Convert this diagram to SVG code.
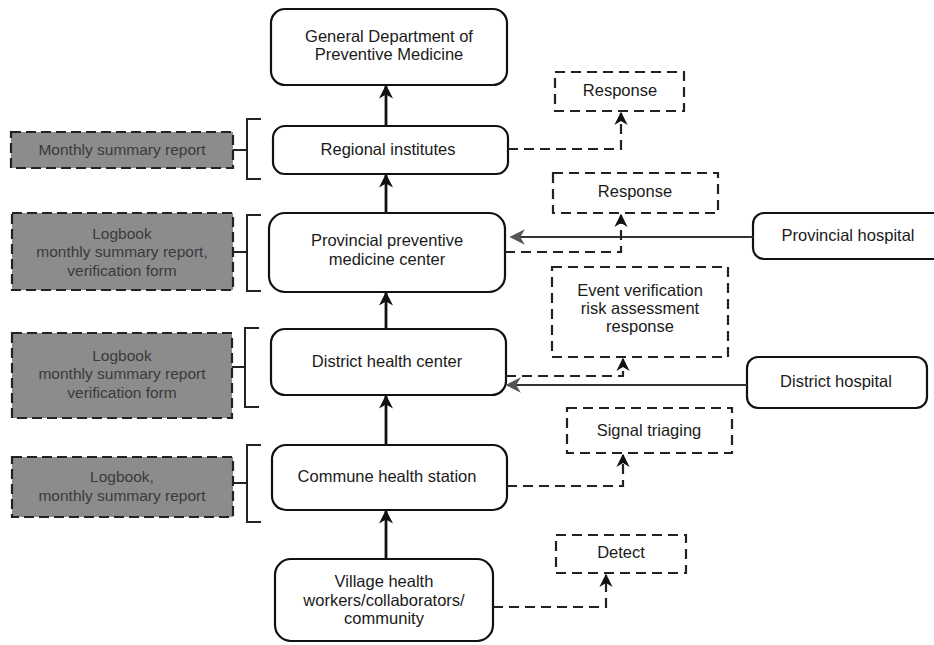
<svg xmlns="http://www.w3.org/2000/svg" width="934" height="645" viewBox="0 0 934 645">
<defs>
<style>
.box{fill:#fff;stroke:#111;stroke-width:2.2}
.grey{fill:#8c8c8c;stroke:#222;stroke-width:2.2;stroke-dasharray:10 5}
.dbox{fill:#fff;stroke:#222;stroke-width:2.2;stroke-dasharray:10 6}
text{font-family:"Liberation Sans",Arial,sans-serif;font-size:16.5px;fill:#1a1a1a;text-anchor:middle;dominant-baseline:middle}
.gt{fill:#3a3a3a;font-size:15.5px}
.main{stroke:#111;stroke-width:2.8;fill:none}
.side{stroke:#333;stroke-width:2.2;fill:none}
.dash{stroke:#222;stroke-width:2.2;fill:none;stroke-dasharray:10 6}
.br{stroke:#222;stroke-width:2;fill:none}
</style>
<marker id="ah" viewBox="0 0 10 10" refX="9" refY="5" markerWidth="5" markerHeight="5" orient="auto" markerUnits="strokeWidth">
<path d="M0,0 L10,5 L0,10 L3,5 z" fill="#111"/>
</marker>
<marker id="ahs" viewBox="0 0 10 10" refX="9" refY="5" markerWidth="7" markerHeight="7" orient="auto" markerUnits="strokeWidth">
<path d="M0,0 L10,5 L0,10 L3,5 z" fill="#555"/>
</marker>
<marker id="ahd" viewBox="0 0 10 10" refX="9" refY="5" markerWidth="6" markerHeight="6" orient="auto" markerUnits="strokeWidth">
<path d="M0,0 L10,5 L0,10 L3,5 z" fill="#111"/>
</marker>
</defs>
<rect width="934" height="645" fill="#fff"/>

<g id="general">
<rect class="box" x="271" y="9" width="236" height="76" rx="14"/>
<text x="389" y="38">General Department of</text>
<text x="389" y="56">Preventive Medicine</text>
</g>
<g id="regional">
<rect class="box" x="273" y="126" width="235" height="48" rx="12"/>
<text x="388" y="151">Regional institutes</text>
</g>
<g id="provincial">
<rect class="box" x="269" y="213" width="236" height="79" rx="16"/>
<text x="387" y="242">Provincial preventive</text>
<text x="387" y="261">medicine center</text>
</g>
<g id="district">
<rect class="box" x="271" y="329" width="235" height="66" rx="14"/>
<text x="387" y="363">District health center</text>
</g>
<g id="commune">
<rect class="box" x="272" y="445" width="235" height="65" rx="14"/>
<text x="387" y="478">Commune health station</text>
</g>
<g id="village">
<rect class="box" x="275" y="559" width="218" height="82" rx="16"/>
<text x="384" y="583">Village health</text>
<text x="384" y="602">workers/collaborators/</text>
<text x="384" y="620">community</text>
</g>

<g id="prov-hospital">
<rect class="box" x="753" y="213" width="195" height="46" rx="11"/>
<text x="848" y="237">Provincial hospital</text>
</g>
<g id="dist-hospital">
<rect class="box" x="747" y="357" width="180" height="51" rx="11"/>
<text x="836" y="383">District hospital</text>
</g>

<g id="response1">
<rect class="dbox" x="555" y="72" width="129" height="39"/>
<text x="620" y="92">Response</text>
</g>
<g id="response2">
<rect class="dbox" x="553" y="173" width="165" height="40"/>
<text x="635" y="193">Response</text>
</g>
<g id="event">
<rect class="dbox" x="552" y="267" width="176" height="90"/>
<text x="640" y="292">Event verification</text>
<text x="640" y="310">risk assessment</text>
<text x="640" y="328">response</text>
</g>
<g id="signal">
<rect class="dbox" x="567" y="408" width="165" height="45"/>
<text x="649" y="432">Signal triaging</text>
</g>
<g id="detect">
<rect class="dbox" x="556" y="535" width="130" height="38"/>
<text x="621" y="554">Detect</text>
</g>

<g id="rep-monthly">
<rect class="grey" x="11" y="132" width="222" height="36"/>
<text class="gt" x="122" y="151">Monthly summary report</text>
</g>
<g id="rep-provincial">
<rect class="grey" x="12" y="213" width="221" height="77"/>
<text class="gt" x="122" y="235">Logbook</text>
<text class="gt" x="122" y="253">monthly summary report,</text>
<text class="gt" x="122" y="272">verification form</text>
</g>
<g id="rep-district">
<rect class="grey" x="12" y="333" width="220" height="85"/>
<text class="gt" x="122" y="357">Logbook</text>
<text class="gt" x="122" y="375">monthly summary report</text>
<text class="gt" x="122" y="394">verification form</text>
</g>
<g id="rep-commune">
<rect class="grey" x="12" y="457" width="221" height="60"/>
<text class="gt" x="122" y="478">Logbook,</text>
<text class="gt" x="122" y="497">monthly summary report</text>
</g>

<g id="connectors">
<path class="br" d="M233,150 H247 M261,119 H247 V179 H261"/>
<path class="br" d="M233,252 H247 M261,215 H247 V291 H261"/>
<path class="br" d="M232,367 H245 M259,328 H245 V407 H259"/>
<path class="br" d="M233,483 H247 M261,445 H247 V522 H261"/>
<line class="main" x1="386" y1="126" x2="386" y2="86" marker-end="url(#ah)"/>
<line class="main" x1="386" y1="213" x2="386" y2="175" marker-end="url(#ah)"/>
<line class="main" x1="386" y1="329" x2="386" y2="293" marker-end="url(#ah)"/>
<line class="main" x1="386" y1="445" x2="386" y2="396" marker-end="url(#ah)"/>
<line class="main" x1="386" y1="559" x2="386" y2="511" marker-end="url(#ah)"/>
<line class="side" x1="753" y1="237" x2="511" y2="237" marker-end="url(#ahs)"/>
<line class="side" x1="747" y1="385" x2="507" y2="385" marker-end="url(#ahs)"/>
<path class="dash" d="M508,149 H621 V113" marker-end="url(#ahd)"/>
<path class="dash" d="M505,252 H621 V215" marker-end="url(#ahd)"/>
<path class="dash" d="M506,376 H623 V359" marker-end="url(#ahd)"/>
<path class="dash" d="M507,486 H623 V455" marker-end="url(#ahd)"/>
<path class="dash" d="M493,607 H606 V575" marker-end="url(#ahd)"/>
</g>
</svg>
